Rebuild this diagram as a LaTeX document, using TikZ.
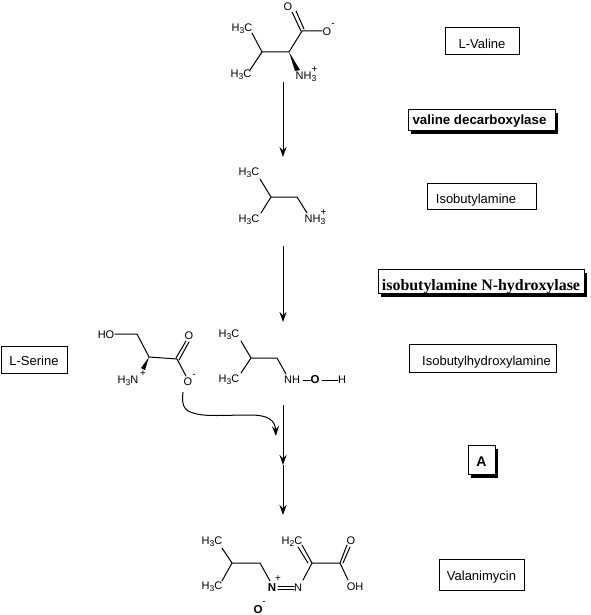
\documentclass[tikz,border=0pt]{standalone}
\usepackage{fontspec}
\setmainfont{Liberation Sans}
\newfontfamily\serifbold{Liberation Serif}
\usetikzlibrary{arrows.meta,shadows,calc}
\newcommand{\lowidx}[1]{\raisebox{-2.2pt}{\fontsize{8.5}{9}\selectfont #1}}
\tikzset{
  atom/.style={inner sep=0pt,font=\fontsize{11}{13}\selectfont},
  atomb/.style={inner sep=0pt,font=\fontsize{11.5}{13}\selectfont\bfseries},
  chg/.style={inner sep=0pt,font=\fontsize{10}{11}\selectfont},
  bond/.style={line width=1pt,line cap=round,line join=round},
  flow/.style={line width=1pt,-{Stealth[length=10pt,width=7pt,inset=3.5pt]}},
  label box/.style={draw=black,fill=white,line width=1pt,inner sep=0pt,text depth=0pt,font=\fontsize{13}{15}\selectfont},
  shadow box/.style={label box,general shadow={fill=black,shadow xshift=2.5pt,shadow yshift=-3.5pt}},
}
\begin{document}
\begin{tikzpicture}[x=1pt,y=-1pt]
\useasboundingbox (0,0) rectangle (590,615);
\fill[white] (0,0) rectangle (590,615);

% label boxes
\node[label box,text height=15pt,minimum width=74pt,minimum height=27pt] (bVal) at (482,41.5) {L-Valine};
\node[shadow box,text height=9pt,minimum width=147pt,minimum height=20pt,font=\fontsize{13.3}{15}\selectfont\bfseries] (bDec) at (481.5,120) {\hspace{-4pt}valine decarboxylase};
\node[label box,text height=14pt,minimum width=109pt,minimum height=26pt] (bIso) at (481.5,196) {\hspace{-11pt}Isobutylamine};
\node[shadow box,text height=18pt,minimum width=206pt,minimum height=24pt,font=\fontsize{15.9}{17}\serifbold\bfseries] (bHyd) at (481,281) {isobutylamine N-hydroxylase};
\node[label box,text height=14pt,minimum width=147pt,minimum height=28pt] (bIH) at (482.5,358) {\hspace{8pt}Isobutylhydroxylamine};
\node[label box,text height=11pt,minimum width=66pt,minimum height=27pt] (bSer) at (34,359.5) {L-Serine};
\node[shadow box,text height=14.4pt,minimum width=27pt,minimum height=29pt,font=\fontsize{14}{16}\selectfont\bfseries] (bA) at (481.5,459.5) {A};
\node[label box,text height=11pt,minimum width=85pt,minimum height=31pt] (bVm) at (481.5,574.5) {Valanimycin};

% L-valine
\node[atom] (vO) at (288,7) {O};
\node[atom] (vOm) at (327,32) {O};
\node[chg] at (333,25) (vOmc) {-};
\node[atom] (vMe1) at (242,29) {H\lowidx{3}C};
\node[atom] (vMe2) at (241,75) {H\lowidx{3}C};
\node[atom] (vN) at (306,77) {NH\lowidx{3}};
\node[chg] (vNc) at (314.5,70) {+};
\coordinate (vC) at (302,31);
\coordinate (vA) at (289,52);
\coordinate (vB) at (262,52);
\coordinate (vMe1e) at (252,33);
\coordinate (vMe2e) at (250,70);
\coordinate (vWe) at (298,71);
\coordinate (vO1a) at (292,12);
\coordinate (vO1b) at (301,31);
\coordinate (vO2a) at (296,11);
\coordinate (vO2b) at (304,29);
\coordinate (vOma) at (322,31);
\draw[bond] (vMe1e) -- (vB) -- (vMe2e);
\draw[bond] (vB) -- (vA) -- (vC) -- (vOma);
\draw[bond] (vO1a) -- (vO1b);
\draw[bond] (vO2a) -- (vO2b);
\fill (vA) -- ($(vWe)+(-3,0)$) -- ($(vWe)+(2,-1)$) -- cycle;

% isobutylamine
\node[atom] (iMe1) at (249,173) {H\lowidx{3}C};
\node[atom] (iMe2) at (249,220) {H\lowidx{3}C};
\node[atom] (iN) at (315,220) {NH\lowidx{3}};
\node[chg] (iNc) at (323.5,213) {+};
\coordinate (iB) at (271,197);
\coordinate (iC) at (297,197);
\coordinate (iMe1e) at (260,179);
\coordinate (iMe2e) at (261,213);
\coordinate (iNe) at (307,213);
\draw[bond] (iMe1e) -- (iB) -- (iMe2e);
\draw[bond] (iB) -- (iC) -- (iNe);

% serine
\node[atom] (sHO) at (106,335) {HO};
\node[atom] (sO) at (189,336) {O};
\node[atom] (sOm) at (188,382) {O};
\node[chg] (sOmc) at (194,376) {-};
\node[atom] (sN) at (128,381) {H\lowidx{3}N};
\node[chg] (sNc) at (143,374) {+};
\coordinate (sH) at (115,334);
\coordinate (sC1) at (137,334);
\coordinate (sA) at (149,357);
\coordinate (sC) at (177,359);
\coordinate (sOe) at (186,376);
\coordinate (sW) at (143,369);
\coordinate (sD1a) at (176,358);
\coordinate (sD1b) at (186,341);
\coordinate (sD2a) at (179,360);
\coordinate (sD2b) at (189,342);
\draw[bond] (sH) -- (sC1) -- (sA) -- (sC) -- (sOe);
\draw[bond] (sD1a) -- (sD1b);
\draw[bond] (sD2a) -- (sD2b);
\fill (sA) -- ($(sW)+(2,1)$) -- ($(sW)+(-2,-1)$) -- cycle;

% isobutylhydroxylamine
\node[atom] (hMe1) at (229,335) {H\lowidx{3}C};
\node[atom] (hMe2) at (229,380) {H\lowidx{3}C};
\node[atom] (hN) at (292,380) {NH};
\node[atomb] (hO) at (315,380) {O};
\node[atom] (hH) at (342,380) {H};
\coordinate (hB) at (251,358);
\coordinate (hC) at (277,358);
\coordinate (hMe1e) at (241,341);
\coordinate (hMe2e) at (241,373);
\coordinate (hNe) at (286,374);
\coordinate (hNr) at (303,380);
\coordinate (hOr) at (322,380);
\draw[bond] (hMe1e) -- (hB) -- (hMe2e);
\draw[bond] (hB) -- (hC) -- (hNe);
\draw[bond] (hNr) -- (hO.west);
\draw[bond] (hOr) -- (hH.west);

% valanimycin
\node[atom] (mMe1) at (212,542) {H\lowidx{3}C};
\node[atom] (mMe2) at (212,587) {H\lowidx{3}C};
\node[atom] (mH2C) at (292,542) {H\lowidx{2}C};
\node[atom] (mO) at (351,541) {O};
\node[atom] (mOH) at (355,587) {OH};
\node[atomb] (mNp) at (272,588) {N};
\node[chg] (mNc) at (278,579) {+};
\node[atom] (mN) at (298,588) {N};
\node[atomb] (mOm) at (258,610) {O};
\node[chg] (mOc) at (264,603) {-};
\coordinate (mB) at (232,563);
\coordinate (mC) at (260,563);
\coordinate (mCd) at (312,563);
\coordinate (mCc) at (340,563);
\coordinate (mMe1e) at (222,548);
\coordinate (mMe2e) at (222,581);
\coordinate (mNe) at (270,581);
\coordinate (mNd) at (303,580);
\coordinate (mH1) at (302,545);
\coordinate (mH2) at (298,547);
\coordinate (mCd2) at (308,563);
\coordinate (mO1) at (347,545);
\coordinate (mO2) at (350,547);
\coordinate (mCc2) at (343,563);
\coordinate (mOHe) at (348,580);
\coordinate (mN1a) at (278,586.5);
\coordinate (mN1b) at (294,586.5);
\coordinate (mN2a) at (278,589.5);
\coordinate (mN2b) at (294,589.5);
\draw[bond] (mMe1e) -- (mB) -- (mMe2e);
\draw[bond] (mB) -- (mC) -- (mNe);
\draw[bond] (mN1a) -- (mN1b);
\draw[bond] (mN2a) -- (mN2b);
\draw[bond] (mNd) -- (mCd) -- (mCc) -- (mOHe);
\draw[bond] (mCd) -- (mH1);
\draw[bond] (mCd2) -- (mH2);
\draw[bond] (mCc) -- (mO1);
\draw[bond] (mCc2) -- (mO2);

% reaction arrows
\coordinate (a1s) at (283,82);
\coordinate (a1e) at (283,157);
\coordinate (a2s) at (283,246);
\coordinate (a2e) at (283,322);
\coordinate (a3s) at (283,405);
\coordinate (a3e) at (283,465);
\coordinate (a4e) at (283,515);
\coordinate (c1) at (183,392);
\coordinate (c2) at (276,436);
\draw[flow] (a1s) -- (a1e);
\draw[flow] (a2s) -- (a2e);
\draw[flow] (a3s) -- (a3e);
\draw[flow] (a3e) -- (a4e);
\draw[flow] (c1) .. controls (182,402) and (182,410) .. (193,413)
  .. controls (205,417) and (225,415) .. (250,415)
  .. controls (268,415) and (275,420) .. (c2);
\end{tikzpicture}
\end{document}
